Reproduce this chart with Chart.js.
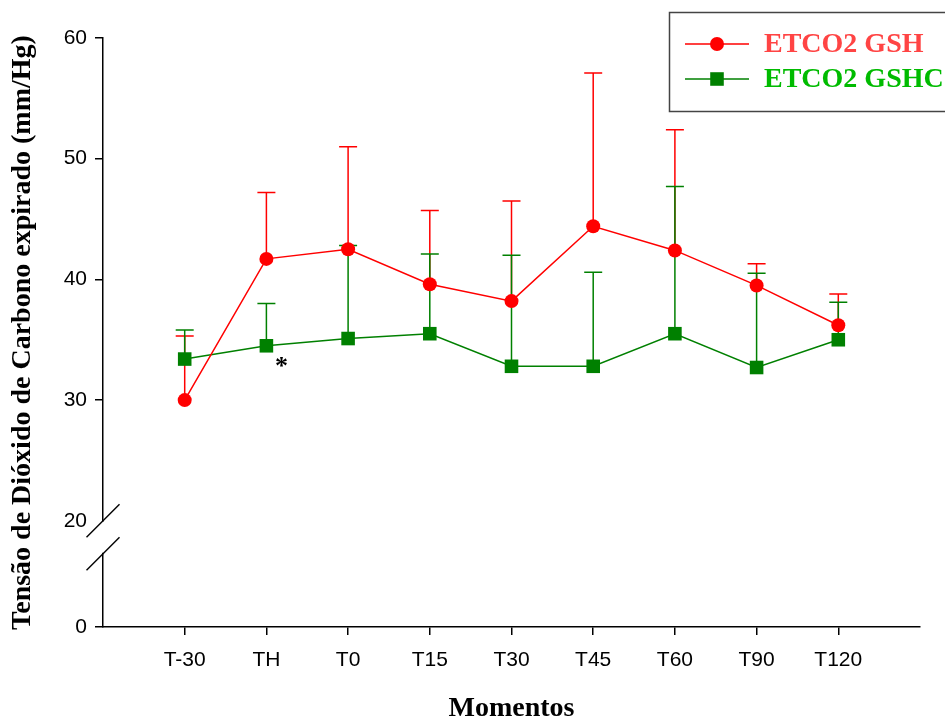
<!DOCTYPE html>
<html>
<head>
<meta charset="utf-8">
<script src="https://cdn.jsdelivr.net/npm/chart.js@4.4.1/dist/chart.umd.min.js"></script>
<style>
  html, body { margin: 0; padding: 0; background: #ffffff; }
  #wrap { width: 945px; height: 722px; }
</style>
</head>
<body>
<div id="wrap"><canvas id="c" width="945" height="722"></canvas></div>
<script>
// Moments of measurement
const moments = ['T-30', 'TH', 'T0', 'T15', 'T30', 'T45', 'T60', 'T90', 'T120'];

// ETCO2 (mmHg), group GSH: mean and standard deviation
const gshMean = [30.0, 41.7, 42.5, 39.6, 38.2, 44.4, 42.4, 39.5, 36.2];
const gshSD   = [ 5.3,  5.5,  8.5,  6.1,  8.3, 12.7, 10.0,  1.8,  2.6];

// ETCO2 (mmHg), group GSHC: mean and standard deviation
const gshcMean = [33.4, 34.5, 35.1, 35.5, 32.8, 32.8, 35.5, 32.7, 35.0];
const gshcSD   = [ 2.4,  3.5,  7.7,  6.6,  9.2,  7.8, 12.2,  7.8,  3.1];

const seriesNames = ['ETCO2 GSH', 'ETCO2 GSHC'];

// Y ticks above the axis break, plus the "0" at the foot of the axis
const yTickValues = [20, 30, 40, 50, 60];
const yFootLabel = '0';

// Significant difference marker
const markedMoment = 'TH';
const markText = '*';

// The axis is broken below 20: its foot (labelled 0) sits at this value
const Y_FOOT = 11.2;
const Y_TOP = 60;

const RED = '#ff0000';
const GREEN = '#008000';

const toPoints = (arr) => arr.map((v, i) => ({ x: i + 1, y: v }));

// Upper error bars (mean + SD) with caps
const errorBars = {
  id: 'errorBars',
  beforeDatasetsDraw(chart) {
    const { ctx, scales: { x, y } } = chart;
    const sets = [[gshMean, gshSD, RED], [gshcMean, gshcSD, GREEN]];
    ctx.save();
    ctx.lineWidth = 1.5;
    sets.forEach(([mean, sd, color]) => {
      ctx.strokeStyle = color;
      mean.forEach((m, i) => {
        const px = x.getPixelForValue(i + 1);
        const y0 = y.getPixelForValue(m);
        const y1 = y.getPixelForValue(m + sd[i]);
        ctx.beginPath();
        ctx.moveTo(px, y0);
        ctx.lineTo(px, y1);
        ctx.moveTo(px - 9, y1);
        ctx.lineTo(px + 9, y1);
        ctx.stroke();
      });
    });
    ctx.restore();
  }
};

// Axis break marks, legend box and significance marker
const decorations = {
  id: 'decorations',
  afterDraw(chart) {
    const { ctx, scales: { x, y } } = chart;
    ctx.save();

    // break in the y axis
    const bx = y.right;
    const yb = y.getPixelForValue(20);
    const gap = 33;
    ctx.fillStyle = '#ffffff';
    ctx.fillRect(bx - 3, yb + 1, 6, gap - 2);
    ctx.strokeStyle = '#000000';
    ctx.lineWidth = 1.5;
    [yb, yb + gap].forEach(cy => {
      ctx.beginPath();
      ctx.moveTo(bx - 16.5, cy + 16.5);
      ctx.lineTo(bx + 16.5, cy - 16.5);
      ctx.stroke();
    });

    // significance marker next to the GSHC point
    const mi = moments.indexOf(markedMoment);
    ctx.fillStyle = '#000000';
    ctx.font = 'bold 26px "Liberation Serif"';
    ctx.textAlign = 'center';
    ctx.textBaseline = 'middle';
    ctx.fillText(markText, x.getPixelForValue(mi + 1) + 15, y.getPixelForValue(gshcMean[mi]) + 22);

    // legend
    ctx.strokeStyle = '#444444';
    ctx.lineWidth = 1.5;
    ctx.strokeRect(669.5, 12.5, 320, 99);
    const rows = [
      { name: seriesNames[0], color: RED, text: '#ff4444', style: 'circle', r: 7, cy: 44 },
      { name: seriesNames[1], color: GREEN, text: '#00bb00', style: 'rect', r: 9.6, cy: 79 }
    ];
    rows.forEach(row => {
      ctx.strokeStyle = row.color;
      ctx.lineWidth = 1.5;
      ctx.beginPath();
      ctx.moveTo(685, row.cy);
      ctx.lineTo(749, row.cy);
      ctx.stroke();
      ctx.fillStyle = row.color;
      Chart.helpers.drawPoint(ctx, { pointStyle: row.style, radius: row.r, borderWidth: 0 }, 717, row.cy);
      ctx.fillStyle = row.text;
      ctx.font = 'bold 28px "Liberation Serif"';
      ctx.textAlign = 'left';
      ctx.textBaseline = 'middle';
      ctx.fillText(row.name, 764, row.cy + 1);
    });

    ctx.restore();
  }
};

new Chart(document.getElementById('c'), {
  type: 'line',
  data: {
    datasets: [
      {
        label: seriesNames[0],
        data: toPoints(gshMean),
        borderColor: RED,
        backgroundColor: RED,
        borderWidth: 1.5,
        pointStyle: 'circle',
        pointRadius: 7,
        pointBorderWidth: 0,
        tension: 0
      },
      {
        label: seriesNames[1],
        data: toPoints(gshcMean),
        borderColor: GREEN,
        backgroundColor: GREEN,
        borderWidth: 1.5,
        pointStyle: 'rect',
        pointRadius: 9.6,
        pointBorderWidth: 0,
        tension: 0
      }
    ]
  },
  options: {
    responsive: false,
    animation: false,
    devicePixelRatio: 1,
    layout: { padding: { left: 0, top: 38, right: 25, bottom: 0 } },
    plugins: { legend: { display: false }, tooltip: { enabled: false } },
    scales: {
      x: {
        type: 'linear',
        min: 0,
        max: moments.length + 1,
        afterBuildTicks: s => { s.ticks = moments.map((m, i) => ({ value: i + 1 })); },
        afterFit: s => { s.height = 95; },
        ticks: {
          autoSkip: false,
          maxRotation: 0,
          padding: 13,
          color: '#000000',
          font: { family: 'Liberation Sans', size: 21 },
          callback: v => moments[v - 1] ?? ''
        },
        grid: { drawOnChartArea: false, drawTicks: true, tickLength: 8, color: '#000000', lineWidth: 1.5 },
        border: { display: true, color: '#000000', width: 1.5 },
        title: {
          display: true,
          text: 'Momentos',
          color: '#000000',
          padding: 0,
          font: { family: 'Liberation Serif', size: 28, weight: 'bold', lineHeight: 0.95 }
        }
      },
      y: {
        type: 'linear',
        min: Y_FOOT,
        max: Y_TOP,
        afterBuildTicks: s => { s.ticks = [{ value: Y_FOOT }, ...yTickValues.map(v => ({ value: v }))]; },
        afterFit: s => { s.width = 103; },
        ticks: {
          padding: 8,
          color: '#000000',
          font: { family: 'Liberation Sans', size: 21 },
          callback: v => (v === Y_FOOT ? yFootLabel : String(v))
        },
        grid: {
          drawOnChartArea: false,
          drawTicks: true,
          tickLength: 8,
          lineWidth: 1.5,
          color: ctx => (ctx.tick && ctx.tick.value === 20 ? 'rgba(0,0,0,0)' : '#000000')
        },
        border: { display: true, color: '#000000', width: 1.5 },
        title: {
          display: true,
          text: 'Tensão de Dióxido de Carbono expirado (mm/Hg)',
          color: '#000000',
          padding: { top: 6 },
          font: { family: 'Liberation Serif', size: 28, weight: 'bold', lineHeight: 1.2 }
        }
      }
    }
  },
  plugins: [errorBars, decorations]
});
</script>
</body>
</html>
